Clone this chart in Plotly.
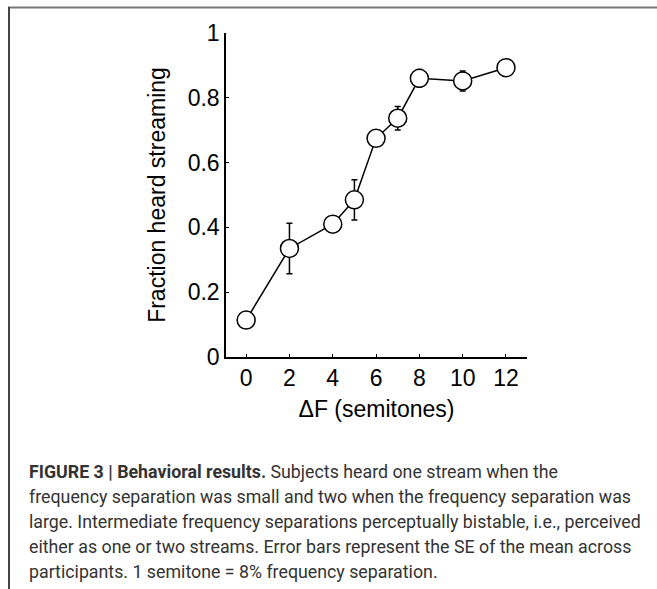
import plotly.graph_objects as go

# Data
delta_f = [0, 2, 4, 5, 6, 7, 8, 10, 12]
fraction_streaming = [0.114, 0.335, 0.41, 0.485, 0.675, 0.737, 0.86, 0.852, 0.893]
se = [0.01, 0.078, 0.012, 0.062, 0.012, 0.036, 0.027, 0.031, 0.01]

x_ticks = [0, 2, 4, 6, 8, 10, 12]
y_ticks = [0, 0.2, 0.4, 0.6, 0.8, 1]
y_tick_text = ["0", "0.2", "0.4", "0.6", "0.8", "1"]

caption_lines = [
    "<b>FIGURE 3 | Behavioral results.</b> Subjects heard one stream when the",
    "frequency separation was small and two when the frequency separation was",
    "large. Intermediate frequency separations perceptually bistable, i.e., perceived",
    "either as one or two streams. Error bars represent the SE of the mean across",
    "participants. 1 semitone = 8% frequency separation.",
]

W, H = 657, 589
L, R, T, B = 226, 527, 33, 357  # plot area in pixels

def px_x(p):
    return (p - L) / (R - L)

def px_y(p):
    return (B - p) / (B - T)

fig = go.Figure()
fig.add_trace(go.Scatter(
    x=delta_f, y=fraction_streaming,
    mode="lines+markers",
    line=dict(color="black", width=1.5),
    marker=dict(size=18, color="white", line=dict(color="black", width=1.5)),
    error_y=dict(type="data", array=se, visible=True, color="black", thickness=1.5, width=3),
    showlegend=False,
))

axis_font = dict(family="Liberation Sans, Arial, sans-serif", size=23, color="black")

fig.update_layout(
    width=W, height=H,
    margin=dict(l=L, r=W - R, t=T, b=H - B, pad=0),
    plot_bgcolor="white", paper_bgcolor="white",
    font=axis_font,
    xaxis=dict(
        range=[-0.93, 12.97], tickvals=x_ticks, ticks="inside", ticklen=3,
        tickcolor="black", tickwidth=1.2, showline=True, linecolor="black", linewidth=1.5,
        showgrid=False, zeroline=False, tickfont=axis_font,
        title=dict(text="ΔF (semitones)", font=axis_font, standoff=11),
    ),
    yaxis=dict(
        range=[0, 1], tickvals=y_ticks, ticktext=y_tick_text, ticks="inside", ticklen=3,
        tickcolor="black", tickwidth=1.2, showline=True, linecolor="black", linewidth=1.5,
        showgrid=False, zeroline=False, tickfont=axis_font,
        title=dict(text="Fraction heard streaming", font=axis_font, standoff=16),
    ),
)

# frame lines of the figure panel
fig.add_shape(type="line", xref="paper", yref="paper",
              x0=px_x(8), x1=px_x(657), y0=px_y(7.5), y1=px_y(7.5),
              line=dict(color="#777777", width=2))
fig.add_shape(type="line", xref="paper", yref="paper",
              x0=px_x(9), x1=px_x(9), y0=px_y(7), y1=px_y(589),
              line=dict(color="#444444", width=2))

cap_font = dict(family="Roboto, sans-serif", size=17.8, color="#333333")
for i, line in enumerate(caption_lines):
    fig.add_annotation(
        text=line, xref="paper", yref="paper",
        x=px_x(27), y=px_y(471 + 25.2 * i),
        xanchor="left", yanchor="middle", showarrow=False, font=cap_font, align="left",
    )

fig.write_html("out.html", config={"displayModeBar": False},
               post_script="document.body.style.margin='0';")
